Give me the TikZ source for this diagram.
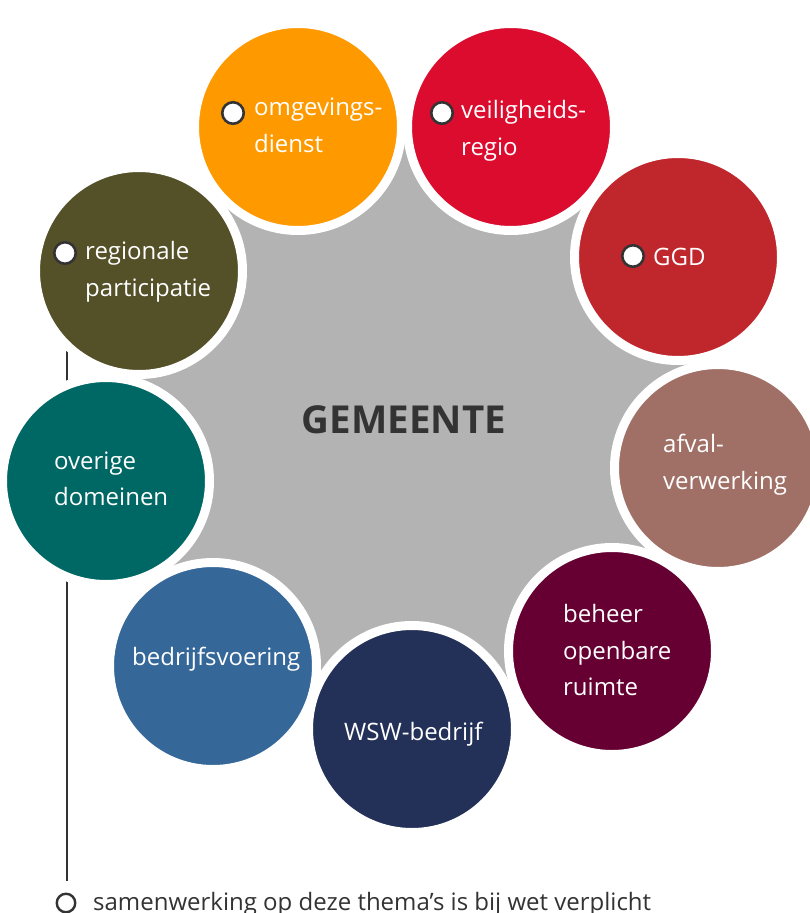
\documentclass[tikz,border=0pt]{standalone}
\usepackage{fontspec}
\setmainfont{Open Sans}
\definecolor{cOrange}{HTML}{FE9A00}
\definecolor{cRed}{HTML}{DC0C2F}
\definecolor{cGGD}{HTML}{C0272D}
\definecolor{cAfval}{HTML}{A07066}
\definecolor{cBeheer}{HTML}{660033}
\definecolor{cWSW}{HTML}{233058}
\definecolor{cBedrijf}{HTML}{356799}
\definecolor{cOverig}{HTML}{006864}
\definecolor{cRegio}{HTML}{545129}
\definecolor{cGray}{HTML}{B3B3B3}
\definecolor{cDark}{HTML}{333333}
\tikzset{
  bubble/.style={circle, minimum size=207pt, inner sep=0pt, draw=white, line width=9pt},
  lbl/.style={anchor=base west, text=white, inner sep=0pt, font=\fontsize{24}{36}\selectfont},
  marker/.style={circle, minimum size=21.5pt, inner sep=0pt, fill=white, draw=cDark, line width=2.6pt},
  legendline/.style={draw=cDark, line width=2.4pt}
}
\begin{document}
\begin{tikzpicture}[x=1pt,y=-1pt]
\useasboundingbox (0,0) rectangle (810,913);
\clip (0,0) rectangle (810,913);
\fill[white] (0,0) rectangle (810,913);
% circle centres
\coordinate (p1) at (298,127);
\coordinate (p2) at (511,127);
\coordinate (p3) at (678,257);
\coordinate (p4) at (718,468);
\coordinate (p5) at (612,651);
\coordinate (p6) at (412,729);
\coordinate (p7) at (213,666);
\coordinate (p8) at (106,481);
\coordinate (p9) at (139,271);
% gray centre
\fill[cGray] (p1) -- (p2) -- (p3) -- (p4) -- (p5) -- (p6) -- (p7) -- (p8) -- (p9) -- cycle;
% vertical legend line
\coordinate (lt) at (67,330);
\coordinate (lb) at (67,881);
\draw[legendline] (lt) -- (lb);
% circles
\node[bubble, fill=cOrange] (n1) at (p1) {};
\node[bubble, fill=cRed] (n2) at (p2) {};
\node[bubble, fill=cGGD] (n3) at (p3) {};
\node[bubble, fill=cAfval] (n4) at (p4) {};
\node[bubble, fill=cBeheer] (n5) at (p5) {};
\node[bubble, fill=cWSW] (n6) at (p6) {};
\node[bubble, fill=cBedrijf] (n7) at (p7) {};
\node[bubble, fill=cOverig] (n8) at (p8) {};
\node[bubble, fill=cRegio] (n9) at (p9) {};
% centre title
\node[text=cDark, font=\bfseries\fontsize{38.5}{42}\selectfont, inner sep=0pt] (title) at (404,420) {GEMEENTE};
% labels
\node[marker] (m1) at (233,113) {};
\node[lbl] (t1a) at (254,115) {omgevings-};
\node[lbl] (t1b) at (254,152) {dienst};
\node[marker] (m2) at (442,113) {};
\node[lbl] (t2a) at (461,118) {veiligheids-};
\node[lbl] (t2b) at (461,155) {regio};
\node[marker] (m3) at (633,256) {};
\node[lbl] (t3a) at (653,265) {GGD};
\node[lbl] (t4a) at (663,452) {afval-};
\node[lbl] (t4b) at (663,489) {verwerking};
\node[lbl] (t5a) at (563,622) {beheer};
\node[lbl] (t5b) at (563,659) {openbare};
\node[lbl] (t5c) at (563,695) {ruimte};
\node[lbl] (t6a) at (344,740) {WSW-bedrijf};
\node[lbl] (t7a) at (132,665) {bedrijfsvoering};
\node[lbl] (t8a) at (54,469) {overige};
\node[lbl] (t8b) at (54,505) {domeinen};
\node[marker] (m9) at (65,253) {};
\node[lbl] (t9a) at (85,259) {regionale};
\node[lbl] (t9b) at (85,296) {participatie};
% legend
\node[marker, minimum size=18.5pt, line width=2.4pt] (lm) at (66,903) {};
\node[lbl, text=cDark] (lt1) at (93,910) {samenwerking op deze thema’s is bij wet verplicht};
\end{tikzpicture}
\end{document}
